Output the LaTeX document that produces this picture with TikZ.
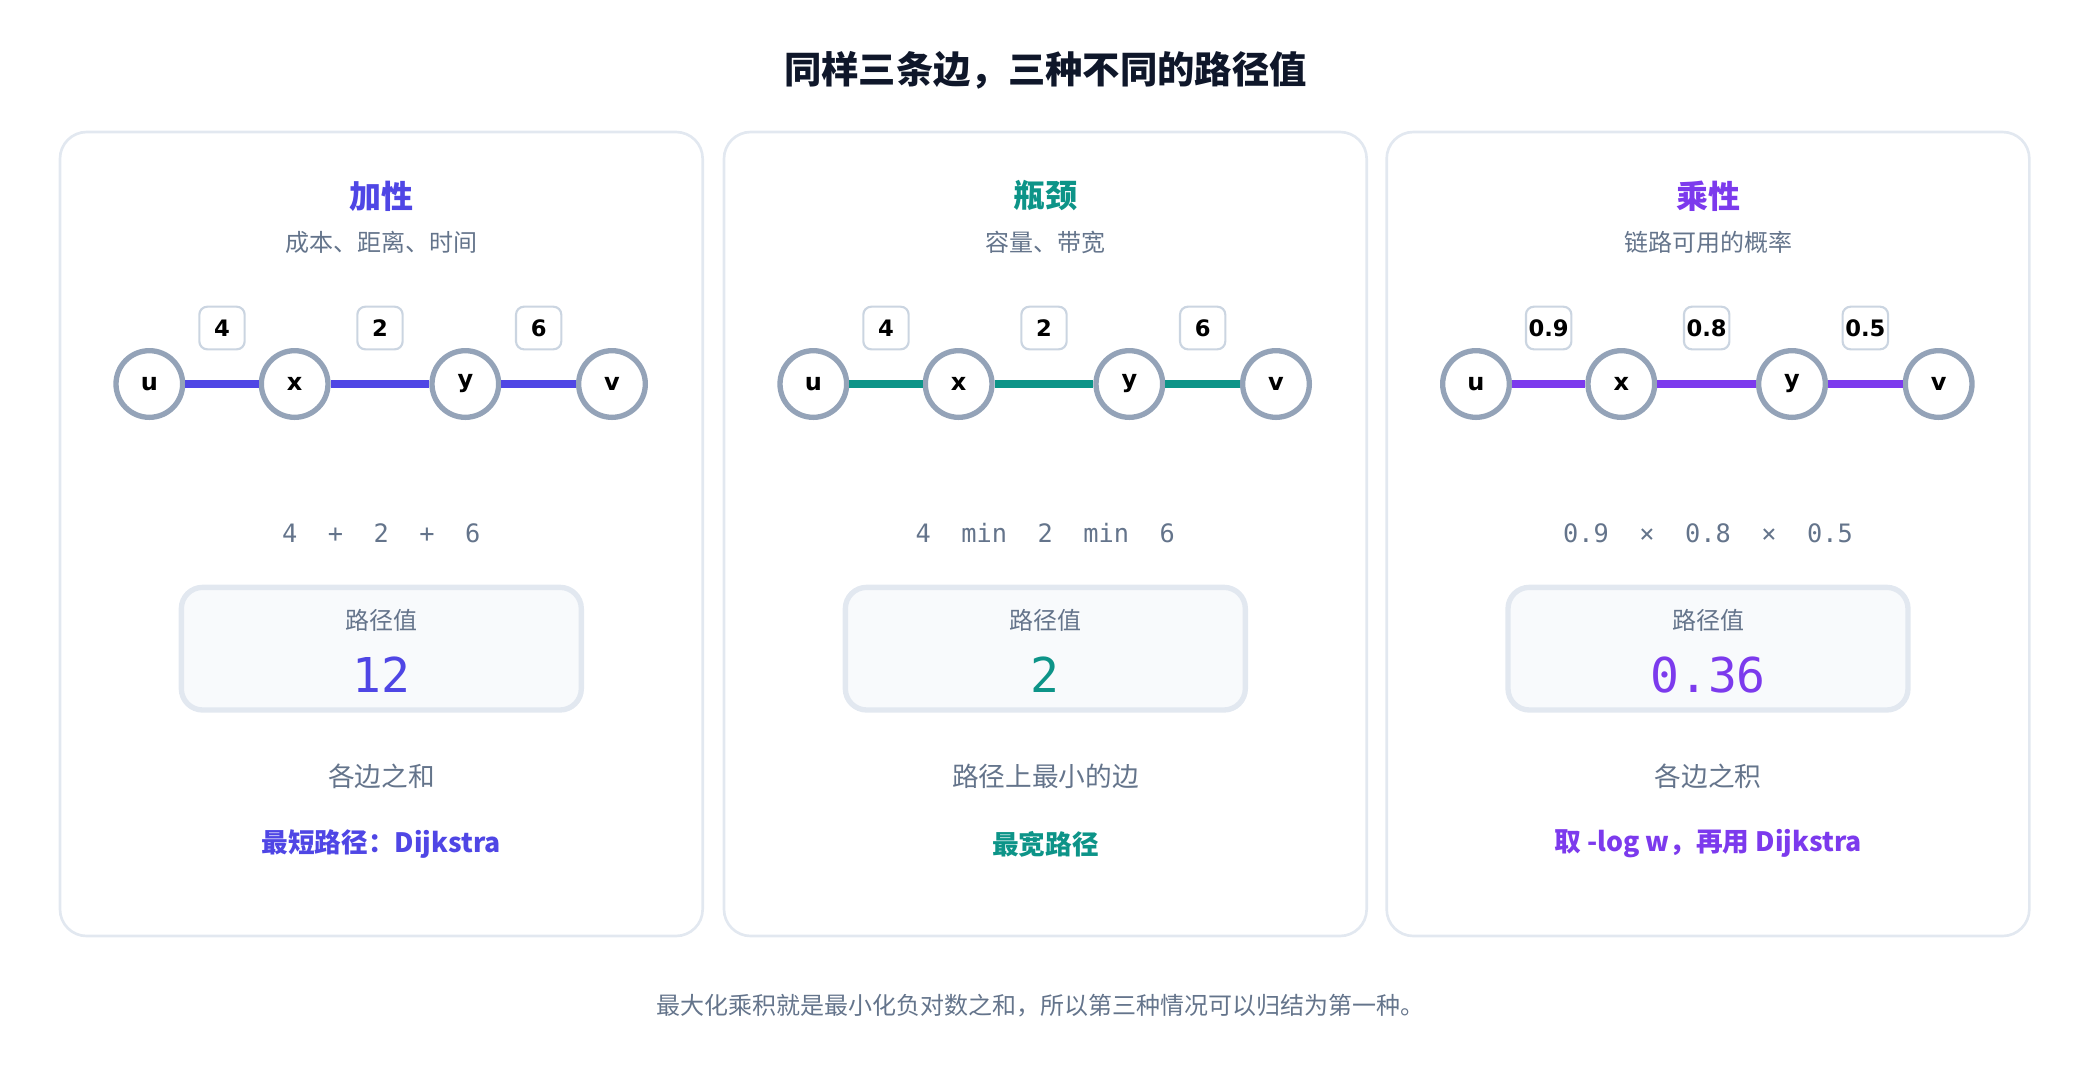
\documentclass[tikz,border=0pt]{standalone}
\usepackage{fontspec}
\setmainfont{DejaVu Sans}
\setmonofont{DejaVu Sans Mono}
\newfontfamily\cjk{Noto Sans CJK SC}
\definecolor{titlec}{HTML}{0F172A}
\definecolor{textc}{HTML}{64748B}
\definecolor{framec}{HTML}{E2E8F0}
\definecolor{nodec}{HTML}{94A3B8}
\definecolor{wboxc}{HTML}{CBD5E1}
\definecolor{fillc}{HTML}{F8FAFC}
\definecolor{addc}{HTML}{4F46E5}
\definecolor{botc}{HTML}{0D9488}
\definecolor{mulc}{HTML}{7C3AED}
\newcommand{\fs}[1]{\fontsize{#1}{#1}\selectfont}

\begin{document}
\begin{tikzpicture}[x=0.5pt,y=-0.5pt,
    panel/.style={draw=framec,line width=1pt,rounded corners=10pt},
    vnode/.style={draw=nodec,line width=2pt,circle,fill=white,minimum size=25pt,inner sep=0pt,font=\bfseries\fs{9}},
    wnode/.style={draw=wboxc,line width=0.8pt,fill=white,rounded corners=3pt,minimum width=17pt,minimum height=16pt,inner sep=1pt,font=\bfseries\fs{8.5}},
    rbox/.style={draw=framec,line width=2pt,fill=fillc,rounded corners=8pt,minimum width=150pt,minimum height=46pt},
    gtext/.style={text=textc,font=\cjk\fs{9}}]
    \useasboundingbox (0,0) rectangle (1560,810);
    \node (title) at (784,53) {\cjk\bfseries\fs{14}\textcolor{titlec}{同样三条边，三种不同的路径值}};

    \foreach \cx/\col/\head/\sub/\wa/\wb/\wc/\expr/\val/\desc/\algo/\k in {
        286/addc/加性/成本、距离、时间/4/2/6/{4~~+~~2~~+~~6}/12/各边之和/{最短路径：Dijkstra}/a,
        784/botc/瓶颈/容量、带宽/4/2/6/{4~~min~~2~~min~~6}/2/路径上最小的边/{最宽路径}/b,
        1281/mulc/乘性/链路可用的概率/0.9/0.8/0.5/{0.9~~×~~0.8~~×~~0.5}/0.36/各边之积/{取 -log w，再用 Dijkstra}/c}{
      \draw[panel] (\cx-241,99) rectangle (\cx+241,702);
      \node[text=\col,font=\cjk\bfseries\fs{12}] (head\k) at (\cx,147) {\head};
      \node[gtext] (sub\k) at (\cx,182) {\sub};
      % path u - x - y - v
      \node[vnode] (u\k) at (\cx-174,288) {u};
      \node[vnode] (x\k) at (\cx-65,288) {x};
      \node[vnode] (y\k) at (\cx+63,288) {y};
      \node[vnode] (v\k) at (\cx+173,288) {v};
      \draw[\col,line width=3pt] (u\k) -- (x\k) (x\k) -- (y\k) (y\k) -- (v\k);
      \node[wnode] (wa\k) at (\cx-119.5,246) {\wa};
      \node[wnode] (wb\k) at (\cx-1,246) {\wb};
      \node[wnode] (wc\k) at (\cx+118,246) {\wc};
      \node[text=textc,font=\ttfamily\fs{9.5}] (expr\k) at (\cx,400) {\expr};
      % result
      \node[rbox] (res\k) at (\cx,486.5) {};
      \node[gtext] (rl\k) at (\cx,465) {路径值};
      \node[text=\col,font=\ttfamily\fs{18}] (val\k) at (\cx,506) {\val};
      \node[text=textc,font=\cjk\fs{10}] (desc\k) at (\cx,582) {\desc};
      \node[text=\col,font=\cjk\bfseries\fs{10}] (algo\k) at (\cx,633) {\algo};
    }

    \node[gtext] (note) at (780,754) {最大化乘积就是最小化负对数之和，所以第三种情况可以归结为第一种。};
\end{tikzpicture}
\end{document}
